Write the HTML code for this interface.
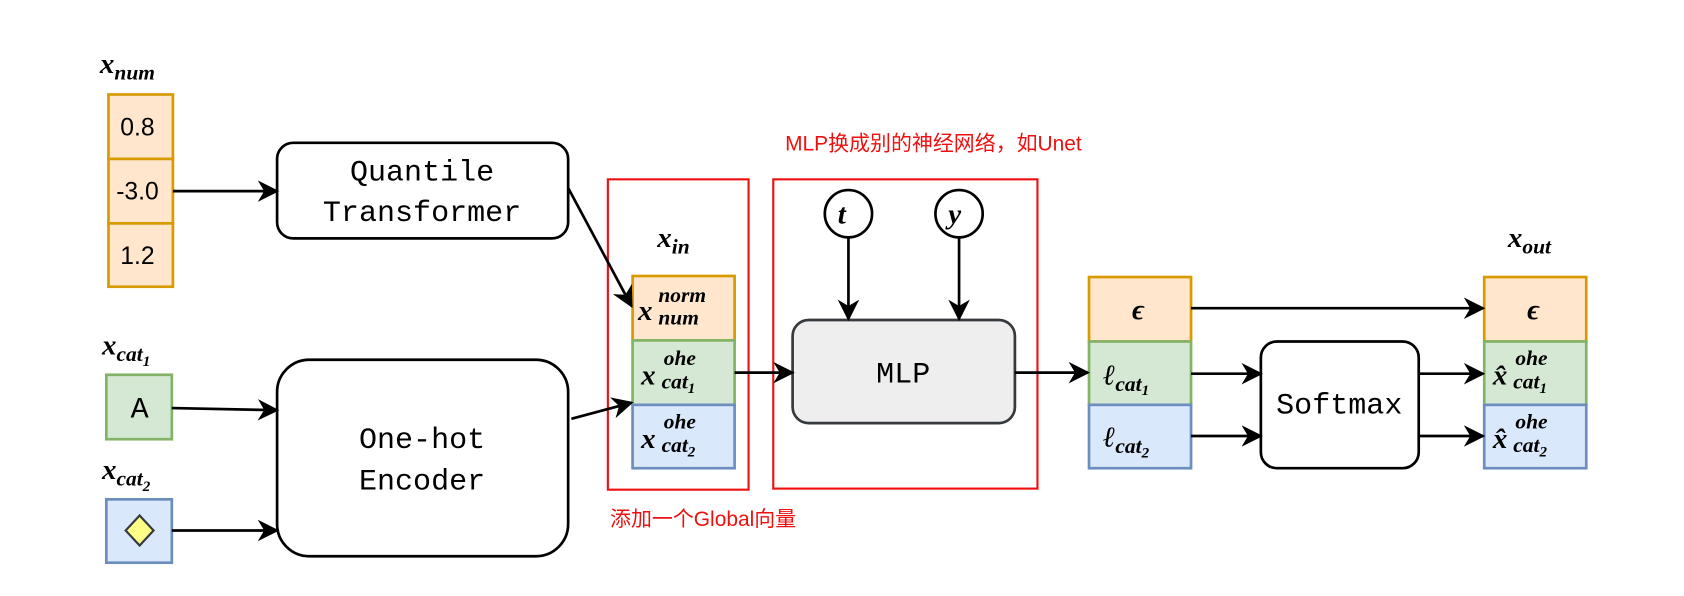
<!DOCTYPE html>
<html><head><meta charset="utf-8"><style>
html,body{margin:0;padding:0;background:#fff;width:1684px;height:596px;overflow:hidden}
svg{display:block}
.m{font-family:"Liberation Serif",serif;font-style:italic;font-weight:bold}
.mono{font-family:"Liberation Mono",monospace;font-size:28px}
.s{font-family:"Liberation Sans",sans-serif;font-size:23px}
.r{font-family:"Liberation Sans","Noto Sans CJK SC",sans-serif;fill:#ee1111}
</style></head><body>
<svg width="1684" height="596" viewBox="0 0 1568 555" preserveAspectRatio="none" xmlns="http://www.w3.org/2000/svg">
<defs>
<marker id="b" viewBox="0 0 10 10" markerWidth="24" markerHeight="20" refX="9" refY="5" orient="auto" markerUnits="userSpaceOnUse"><path d="M0,0 L10,5 L0,10 L3,5z" fill="#000"/></marker></defs>
<g stroke-width="2.5">
<rect x="101" y="88" width="60" height="60" fill="#ffe6cc" stroke="#d79b00"/>
<rect x="101" y="148" width="60" height="60" fill="#ffe6cc" stroke="#d79b00"/>
<rect x="101" y="208" width="60" height="59" fill="#ffe6cc" stroke="#d79b00"/>
<rect x="99" y="349" width="61" height="60" fill="#d5e8d4" stroke="#82b366"/>
<rect x="99" y="465" width="61" height="59" fill="#dae8fc" stroke="#6c8ebf"/>
<path d="M130,480 L143,494 L130,508 L117,494z" fill="#ffff88" stroke="#36393d" stroke-width="2"/>
<rect x="258" y="133" width="271" height="89" rx="15" fill="#fff" stroke="#000"/>
<rect x="258" y="335" width="271" height="183" rx="30" fill="#fff" stroke="#000"/>
<rect x="589" y="257" width="95" height="60" fill="#ffe6cc" stroke="#d79b00"/>
<rect x="589" y="317" width="95" height="60" fill="#d5e8d4" stroke="#82b366"/>
<rect x="589" y="377" width="95" height="59" fill="#dae8fc" stroke="#6c8ebf"/>
<rect x="738" y="298" width="207" height="96" rx="15" fill="#eeeeee" stroke="#36393d"/>
<circle cx="790" cy="199" r="22" fill="#fff" stroke="#000"/>
<circle cx="893" cy="199" r="22" fill="#fff" stroke="#000"/>
<rect x="1014" y="258" width="95" height="60" fill="#ffe6cc" stroke="#d79b00"/>
<rect x="1014" y="318" width="95" height="59" fill="#d5e8d4" stroke="#82b366"/>
<rect x="1014" y="377" width="95" height="59" fill="#dae8fc" stroke="#6c8ebf"/>
<rect x="1174" y="318" width="147" height="118" rx="15" fill="#fff" stroke="#000"/>
<rect x="1382" y="258" width="95" height="60" fill="#ffe6cc" stroke="#d79b00"/>
<rect x="1382" y="318" width="95" height="59" fill="#d5e8d4" stroke="#82b366"/>
<rect x="1382" y="377" width="95" height="59" fill="#dae8fc" stroke="#6c8ebf"/>
</g>
<rect x="566" y="167" width="131" height="289" fill="none" stroke="#ee1111" stroke-width="2"/>
<rect x="720" y="167" width="246" height="288" fill="none" stroke="#ee1111" stroke-width="2"/>
<g stroke="#000" stroke-width="2.5" fill="none" marker-end="url(#b)">
<path d="M161,178 L258,178"/>
<path d="M160,380 L258,382"/>
<path d="M160,494 L258,494"/>
<path d="M529,175 L588,285"/>
<path d="M532,390 L588,375"/>
<path d="M684,347 L738,347"/>
<path d="M790,221 L790,297"/>
<path d="M893,221 L893,297"/>
<path d="M945,347 L1013,347"/>
<path d="M1109,287 L1381,287"/>
<path d="M1109,348 L1174,348"/>
<path d="M1109,406 L1174,406"/>
<path d="M1321,348 L1381,348"/>
<path d="M1321,406 L1381,406"/>
</g>
<g class="s" text-anchor="middle">
<text x="128" y="126">0.8</text><text x="128" y="186">-3.0</text><text x="128" y="246">1.2</text>
</g>
<g class="mono" text-anchor="middle">
<text x="130" y="389">A</text>
<text x="393" y="168">Quantile</text><text x="393" y="206">Transformer</text>
<text x="393" y="417">One-hot</text><text x="393" y="456">Encoder</text>
<text x="841" y="356">MLP</text>
<text x="1247" y="385">Softmax</text>
</g>
<g class="m" font-size="27">
<text x="93" y="68">x<tspan font-size="20" dy="6">num</tspan></text>
<text x="95" y="330">x<tspan font-size="20" dy="6">cat</tspan><tspan font-size="14" dy="5">1</tspan></text>
<text x="95" y="446">x<tspan font-size="20" dy="6">cat</tspan><tspan font-size="14" dy="5">2</tspan></text>
<text x="612" y="230">x<tspan font-size="20" dy="6">in</tspan></text>
<text x="1404" y="230">x<tspan font-size="20" dy="6">out</tspan></text>
<text x="780" y="208">t</text><text x="883" y="208">y</text>
<text x="594" y="298">x</text><text x="613" y="281" font-size="20">norm</text><text x="613" y="302" font-size="20">num</text>
<text x="597" y="358">x</text><text x="618" y="340" font-size="20">ohe</text><text x="616" y="362" font-size="20">cat<tspan font-size="14" dy="4">1</tspan></text>
<text x="597" y="417">x</text><text x="618" y="399" font-size="20">ohe</text><text x="616" y="421" font-size="20">cat<tspan font-size="14" dy="4">2</tspan></text>
<text x="1027" y="358">ℓ<tspan font-size="20" dy="6">cat</tspan><tspan font-size="14" dy="4">1</tspan></text>
<text x="1027" y="416">ℓ<tspan font-size="20" dy="6">cat</tspan><tspan font-size="14" dy="4">2</tspan></text>
<text x="1054" y="297">ϵ</text><text x="1422" y="297">ϵ</text>
<text x="1390" y="358">x̂</text><text x="1411" y="340" font-size="20">ohe</text><text x="1409" y="362" font-size="20">cat<tspan font-size="14" dy="4">1</tspan></text>
<text x="1390" y="417">x̂</text><text x="1411" y="399" font-size="20">ohe</text><text x="1409" y="421" font-size="20">cat<tspan font-size="14" dy="4">2</tspan></text>
</g>
<text class="r" x="731" y="140" font-size="19.5">MLP换成别的神经网络，如Unet</text>
<text class="r" x="568" y="490" font-size="19.5">添加一个Global向量</text>
</svg>
</body></html>
